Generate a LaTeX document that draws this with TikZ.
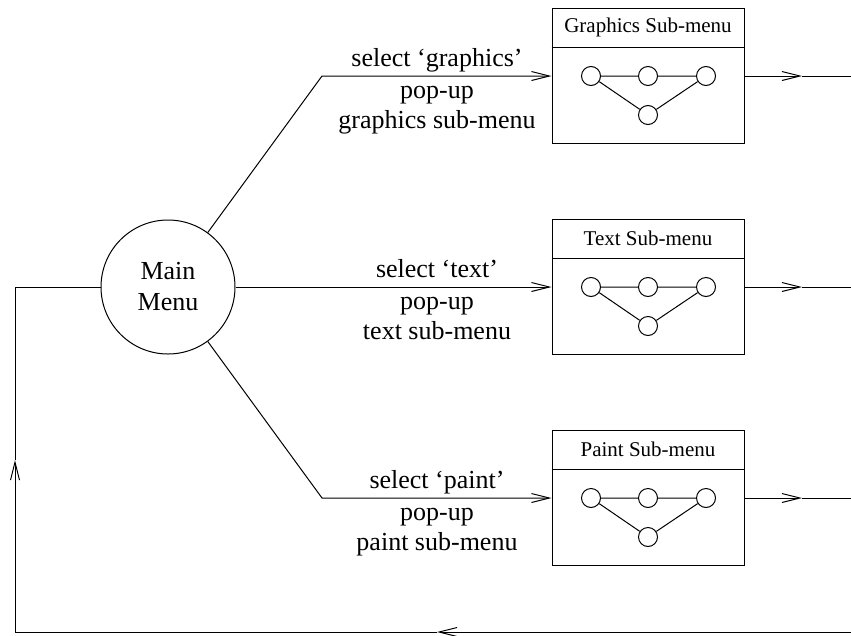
\documentclass[tikz,border=0pt]{standalone}
\usepackage{fontspec}
\setmainfont{Liberation Serif}
\usetikzlibrary{arrows.meta,positioning}

\begin{document}
\begin{tikzpicture}[
  x=1pt,y=-1pt,
  every node/.style={font=\fontsize{26}{31}\selectfont},
  menu/.style={draw,circle,minimum size=134pt,align=center,inner sep=0pt},
  submenu/.style={draw,rectangle,minimum width=192pt,minimum height=135pt,inner sep=0pt},
  head/.style={font=\fontsize{21}{24}\selectfont,inner sep=0pt},
  dot/.style={draw,circle,minimum size=19pt,inner sep=0pt},
  lbl/.style={inner sep=0pt,anchor=base},
  wire/.style={line width=1pt},
  arr/.style={-{Straight Barb[length=18pt,width=9pt]},line width=1pt}
]
\useasboundingbox (0,0) rectangle (851,635);
\node[menu,wire] (main) at (168,287) {Main\\Menu};
% sub-menu boxes
\node[submenu,wire] (gfx) at (648,76) {};
\node[submenu,wire] (txt) at (648,287) {};
\node[submenu,wire] (pnt) at (648,498) {};
\draw[wire] ([yshift=-39pt]gfx.north west) -- ([yshift=-39pt]gfx.north east);
\draw[wire] ([yshift=-39pt]txt.north west) -- ([yshift=-39pt]txt.north east);
\draw[wire] ([yshift=-39pt]pnt.north west) -- ([yshift=-39pt]pnt.north east);
\node[head] (gfxhead) at ([yshift=-19.5pt]gfx.north) {Graphics Sub-menu};
\node[head] (txthead) at ([yshift=-19.5pt]txt.north) {Text Sub-menu};
\node[head] (pnthead) at ([yshift=-19.5pt]pnt.north) {Paint Sub-menu};
% little graphs inside the boxes
\node[dot,wire] (gfx1) at ([xshift=-57pt]gfx.center) {};
\node[dot,wire] (gfx2) at (gfx.center) {};
\node[dot,wire] (gfx3) at ([xshift=58pt]gfx.center) {};
\node[dot,wire] (gfx4) at ([yshift=-39pt]gfx.center) {};
\node[dot,wire] (txt1) at ([xshift=-57pt]txt.center) {};
\node[dot,wire] (txt2) at (txt.center) {};
\node[dot,wire] (txt3) at ([xshift=58pt]txt.center) {};
\node[dot,wire] (txt4) at ([yshift=-39pt]txt.center) {};
\node[dot,wire] (pnt1) at ([xshift=-57pt]pnt.center) {};
\node[dot,wire] (pnt2) at (pnt.center) {};
\node[dot,wire] (pnt3) at ([xshift=58pt]pnt.center) {};
\node[dot,wire] (pnt4) at ([yshift=-39pt]pnt.center) {};
\draw[wire] (gfx1) -- (gfx2) -- (gfx3) (gfx1) -- (gfx4) -- (gfx3);
\draw[wire] (txt1) -- (txt2) -- (txt3) (txt1) -- (txt4) -- (txt3);
\draw[wire] (pnt1) -- (pnt2) -- (pnt3) (pnt1) -- (pnt4) -- (pnt3);
% labels on the transitions
\node[lbl] (gsel) at (437,66) {select ‘graphics’};
\node[lbl] (gpop) at (437,98) {pop-up};
\node[lbl] (gsub) at (437,128) {graphics sub-menu};
\node[lbl] (tsel) at (437,277) {select ‘text’};
\node[lbl] (tpop) at (437,309) {pop-up};
\node[lbl] (tsub) at (437,339) {text sub-menu};
\node[lbl] (psel) at (437,488) {select ‘paint’};
\node[lbl] (ppop) at (437,520) {pop-up};
\node[lbl] (psub) at (437,550) {paint sub-menu};
% connectors
\coordinate (gbend) at (322,76);
\coordinate (pbend) at (322,498);
\draw[arr] (main) -- (gbend) -- (gfx.west);
\draw[arr] (main) -- (txt.west);
\draw[arr] (main) -- (pbend) -- (pnt.west);
\coordinate (gtip) at (802,76);
\coordinate (gout) at (851,76);
\coordinate (ttip) at (802,287);
\coordinate (tout) at (851,287);
\coordinate (ptip) at (802,498);
\coordinate (pout) at (851,498);
\draw[arr] (gfx.east) -- (gtip);
\draw[wire] (gtip) -- (gout);
\draw[arr] (txt.east) -- (ttip);
\draw[wire] (ttip) -- (tout);
\draw[arr] (pnt.east) -- (ptip);
\draw[wire] (ptip) -- (pout);
% way back to the main menu
\coordinate (backr) at (851,632);
\coordinate (backtip) at (437,632);
\coordinate (backl) at (15,632);
\coordinate (backup) at (15,460);
\coordinate (backtop) at (15,287);
\draw[arr] (backr) -- (backtip);
\draw[arr] (backtip) -- (backl) -- (backup);
\draw[wire] (backup) -- (backtop) -- (main);
\end{tikzpicture}
\end{document}
